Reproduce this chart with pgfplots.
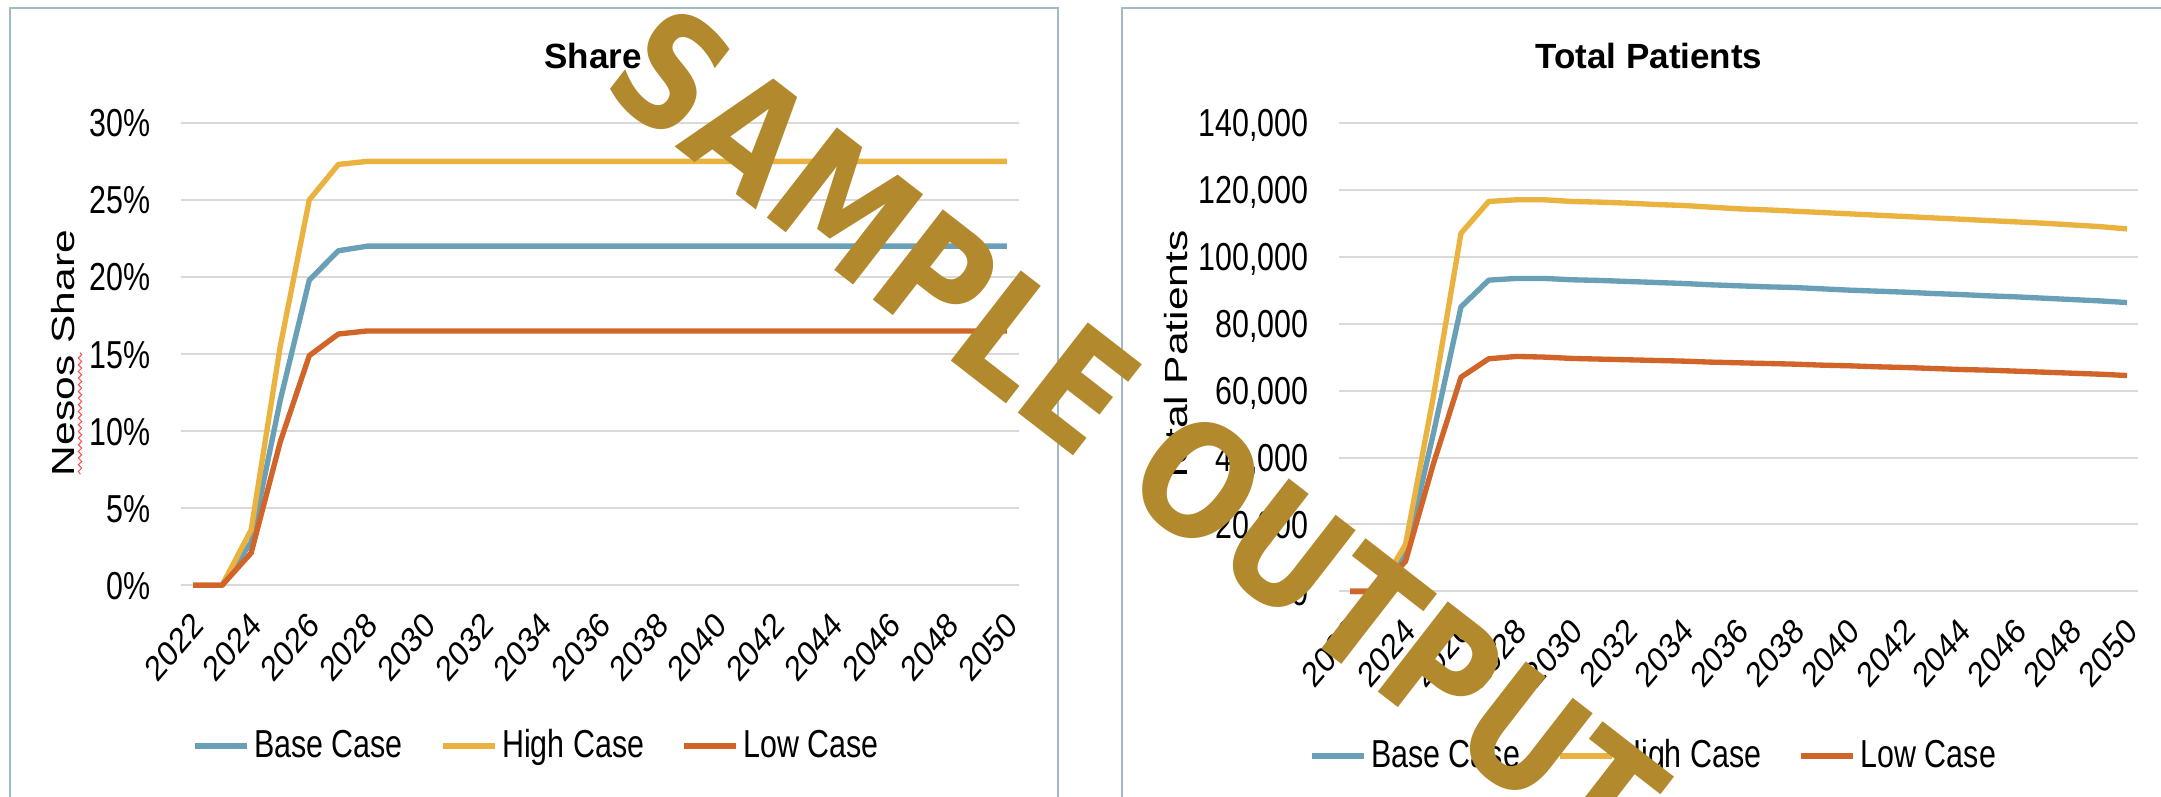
\documentclass[border=0pt]{standalone}
\usepackage{fontspec}
\setmainfont{Liberation Sans}
\newfontfamily\narrowfont{Liberation Sans}[FakeStretch=0.78]
\newfontfamily\xtfont{Liberation Sans}
\newfontfamily\longfont{Liberation Sans}[FakeStretch=1.33]
\newfontfamily\wmfont{DejaVu Sans}[FakeStretch=0.86]
\usepackage{pgfplots}
\usepackage{pgfplotstable}
\pgfplotsset{compat=1.18}
\usetikzlibrary{decorations.pathmorphing}

\definecolor{cbase}{RGB}{106,160,183}
\definecolor{chigh}{RGB}{234,178,62}
\definecolor{clow}{RGB}{209,100,40}
\definecolor{cgrid}{RGB}{217,217,217}
\definecolor{cborder}{RGB}{160,186,196}
\definecolor{cwm}{RGB}{179,137,46}

\pgfplotstableread{
year base high low
2022 0 0 0
2023 0 0 0
2024 2.8 3.6 2.1
2025 12 15.5 9.3
2026 19.8 25 14.9
2027 21.7 27.3 16.3
2028 22 27.5 16.5
2029 22 27.5 16.5
2030 22 27.5 16.5
2031 22 27.5 16.5
2032 22 27.5 16.5
2033 22 27.5 16.5
2034 22 27.5 16.5
2035 22 27.5 16.5
2036 22 27.5 16.5
2037 22 27.5 16.5
2038 22 27.5 16.5
2039 22 27.5 16.5
2040 22 27.5 16.5
2041 22 27.5 16.5
2042 22 27.5 16.5
2043 22 27.5 16.5
2044 22 27.5 16.5
2045 22 27.5 16.5
2046 22 27.5 16.5
2047 22 27.5 16.5
2048 22 27.5 16.5
2049 22 27.5 16.5
2050 22 27.5 16.5
}\sharetable

\pgfplotstableread{
year base high low
2022 0 0 0
2023 0 0 0
2024 11000 14000 9000
2025 47000 58000 38000
2026 85000 107000 64000
2027 93000 116500 69500
2028 93500 117000 70200
2029 93500 117000 70000
2030 93100 116500 69600
2031 92900 116300 69400
2032 92600 116000 69200
2033 92300 115600 69000
2034 92000 115300 68800
2035 91600 114800 68500
2036 91300 114300 68300
2037 91000 114000 68100
2038 90800 113600 67900
2039 90400 113200 67600
2040 90000 112800 67400
2041 89700 112400 67100
2042 89400 112000 66900
2043 89000 111600 66600
2044 88700 111200 66300
2045 88300 110800 66100
2046 88000 110400 65800
2047 87600 110000 65500
2048 87200 109500 65200
2049 86800 109000 64900
2050 86300 108300 64500
}\patienttable

\pgfplotsset{
  mystyle/.style={
    scale only axis,
    axis line style={draw=none},
    tick style={draw=none},
    major tick length=0pt,
    ymajorgrids,
    grid style={cgrid, line width=0.6pt},
    xmin=2021.6, xmax=2050.4,
    xtick={2022,2024,2026,2028,2030,2032,2034,2036,2038,2040,2042,2044,2046,2048,2050},
    xticklabels={2022,2024,2026,2028,2030,2032,2034,2036,2038,2040,2042,2044,2046,2048,2050},
    xticklabel style={font=\xtfont\fontsize{10.6}{12}\selectfont, anchor=east, inner sep=0pt, xshift=1.5pt, yshift=-10pt, xscale=0.85, rotate=45},
    yticklabel style={font=\narrowfont\fontsize{11.7}{14}\selectfont, anchor=base east, inner sep=0pt, xshift=-9pt, yshift=-4.2pt},
    scaled y ticks=false,
    clip=false,
    legend columns=3,
    legend style={draw=none, fill=none, inner sep=0pt, outer sep=0pt,
      font=\narrowfont\fontsize{11.7}{14}\selectfont,
      nodes={inner sep=0pt},
      /tikz/every even column/.append style={column sep=11pt},
      /tikz/every odd column/.append style={column sep=1.2pt}},
    legend image code/.code={\draw[##1, line width=2pt] (0pt,0pt) -- (15.6pt,0pt);},
    every axis plot/.append style={line width=1.6pt, line join=round, no markers},
  }
}

\begin{document}
\begin{tikzpicture}
\useasboundingbox (0,0) rectangle (648.3pt,238.8pt);
\fill[white] (0,0) rectangle (648.3pt,238.8pt);
\draw[cborder, line width=0.7pt] (3pt,-5pt) rectangle (317.4pt,236.4pt);
\draw[cborder, line width=0.7pt] (336.6pt,-5pt) rectangle (660pt,236.4pt);

\begin{axis}[mystyle,
  at={(54.42pt,63.21pt)}, anchor=south west,
  width=251.16pt, height=138.75pt,
  ymin=0, ymax=30,
  ytick={0,5,10,15,20,25,30},
  yticklabels={0\%,5\%,10\%,15\%,20\%,25\%,30\%},
  legend style={at={(0.012,-0.3475)}, anchor=west},
]
\addplot[cbase] table[x=year, y=base] {\sharetable};
\addlegendentry{Base Case}
\addplot[chigh] table[x=year, y=high] {\sharetable};
\addlegendentry{High Case}
\addplot[clow] table[x=year, y=low] {\sharetable};
\addlegendentry{Low Case}
\end{axis}

\begin{axis}[mystyle,
  at={(401.67pt,61.38pt)}, anchor=south west,
  width=239.76pt, height=140.58pt,
  ymin=0, ymax=140000,
  ytick={0,20000,40000,60000,80000,100000,120000,140000},
  yticklabels={0,{20,000},{40,000},{60,000},{80,000},{100,000},{120,000},{140,000}},
  legend style={at={(-0.038,-0.3513)}, anchor=west},
]
\addplot[cbase] table[x=year, y=base] {\patienttable};
\addlegendentry{Base Case}
\addplot[chigh] table[x=year, y=high] {\patienttable};
\addlegendentry{High Case}
\addplot[clow] table[x=year, y=low] {\patienttable};
\addlegendentry{Low Case}
\end{axis}

\node[font=\bfseries\fontsize{10.5}{12}\selectfont, inner sep=0pt] at (177.9pt,222pt) {Share};
\node[font=\bfseries\fontsize{10.5}{12}\selectfont, inner sep=0pt] at (494.7pt,222pt) {Total Patients};
\node[font=\longfont\fontsize{9.6}{11}\selectfont, rotate=90, inner sep=0pt] at (18.9pt,132.9pt) {Nesos Share};
\node[font=\longfont\fontsize{9.6}{11}\selectfont, rotate=90, inner sep=0pt] at (352.8pt,131.4pt) {Total Patients};
\draw[red!60!pink, line width=0.3pt, decorate, decoration={snake, amplitude=0.5pt, segment length=2pt}] (24pt,133pt) -- (24pt,96.5pt);

\node[font=\wmfont\bfseries\fontsize{47}{50}\selectfont, text=cwm, rotate=-37.8, inner sep=0pt] at (341pt,109pt) {SAMPLE OUTPUT};
\end{tikzpicture}
\end{document}
